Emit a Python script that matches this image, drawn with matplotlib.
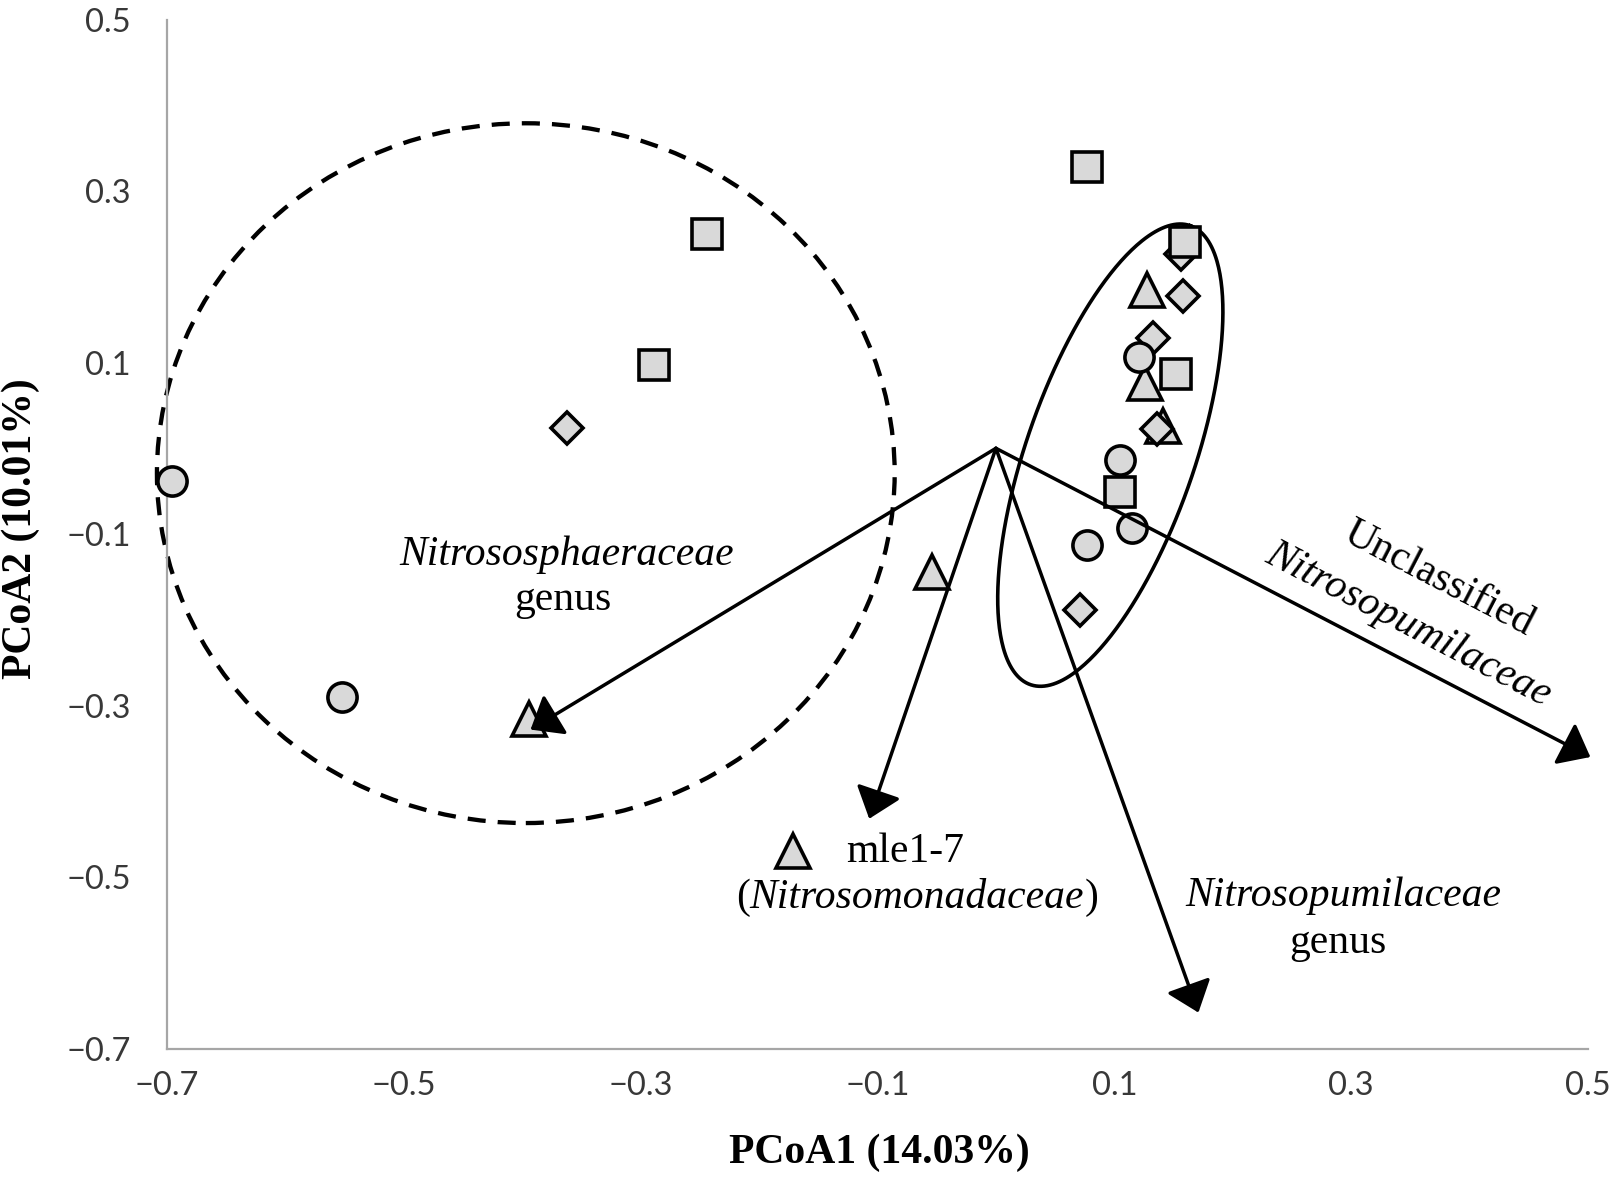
import numpy as np
import matplotlib
matplotlib.use("Agg")
import matplotlib.pyplot as plt
from matplotlib.patches import Ellipse, FancyArrowPatch

# ---------------- data ----------------
circle_x = [-0.696, -0.552, 0.121, 0.105, 0.115, 0.077]
circle_y = [-0.038, -0.290, 0.107, -0.014, -0.093, -0.113]

square_x = [-0.289, -0.244, 0.077, 0.160, 0.152, 0.105]
square_y = [0.097, 0.250, 0.328, 0.240, 0.087, -0.051]

diamond_x = [-0.362, 0.156, 0.158, 0.133, 0.136, 0.071]
diamond_y = [0.024, 0.226, 0.178, 0.129, 0.022, -0.188]

triangle_x = [-0.394, -0.054, -0.171, 0.128, 0.126, 0.141]
triangle_y = [-0.316, -0.144, -0.470, 0.184, 0.076, 0.026]

vector_names = ["Nitrososphaeraceae genus", "mle1-7", "Nitrosopumilaceae genus",
                "Unclassified Nitrosopumilaceae"]
vector_x = [-0.393, -0.107, 0.171, 0.502]
vector_y = [-0.328, -0.432, -0.658, -0.360]

xticks = [-0.7, -0.5, -0.3, -0.1, 0.1, 0.3, 0.5]
yticks = [-0.7, -0.5, -0.3, -0.1, 0.1, 0.3, 0.5]
xlabel = "PCoA1 (14.03%)"
ylabel = "PCoA2 (10.01%)"

# ---------------- figure ----------------
W, H = 1612, 1177
fig = plt.figure(figsize=(W / 100, H / 100), dpi=100)
ax = fig.add_axes([167 / W, 1 - 1048.6 / H, (1588 - 167) / W, (1048.6 - 19.5) / H])
ax.set_xlim(-0.7, 0.5)
ax.set_ylim(-0.7, 0.5)

for s in ["top", "right"]:
    ax.spines[s].set_visible(False)
for s in ["left", "bottom"]:
    ax.spines[s].set_color("#a6a6a6")
    ax.spines[s].set_linewidth(1.6)

tick_font = dict(family=["Lato", "DejaVu Sans"], size=23.5, color="#383838")
ax.set_xticks(xticks)
ax.set_yticks(yticks)
ax.set_xticklabels([f"{v:.1f}".replace("-", "\u2212") for v in xticks], **tick_font)
ax.set_yticklabels([f"{v:.1f}".replace("-", "\u2212") for v in yticks], **tick_font)
ax.tick_params(axis="both", length=0)
ax.tick_params(axis="y", pad=26)
ax.tick_params(axis="x", pad=16)

fill = "#d9d9d9"
ek = dict(linestyle="none", markerfacecolor=fill, markeredgecolor="black", markeredgewidth=2.6,
          clip_on=False)
ax.plot(triangle_x, triangle_y, marker="^", markersize=24, zorder=3, **ek)
ax.plot(diamond_x, diamond_y, marker="D", markersize=16.5, zorder=4, **ek)
ax.plot(circle_x, circle_y, marker="o", markersize=21, zorder=5, **ek)
ax.plot(square_x, square_y, marker="s", markersize=22, zorder=6, **ek)

# dashed ellipse (group outline)
ax.add_patch(Ellipse((-0.397, -0.029), 0.623, 0.816, fill=False, edgecolor="black",
                     linewidth=3.1, linestyle=(0, (4.2, 2.8)), zorder=2, clip_on=False))

# solid rotated ellipse, defined in screen units
fig.canvas.draw()
bb = ax.get_window_extent()
sx = bb.width / 1.2
sy = bb.height / 1.2
a_px, b_px, ang = 243, 84, np.deg2rad(70.8)
t = np.linspace(0, 2 * np.pi, 400)
ox = a_px * np.cos(t) * np.cos(ang) - b_px * np.sin(t) * np.sin(ang)
oy = a_px * np.cos(t) * np.sin(ang) + b_px * np.sin(t) * np.cos(ang)
ax.plot(0.0966 + ox / sx, -0.008 + oy / sy, color="black", linewidth=2.6, zorder=2)

# vectors
for vx, vy in zip(vector_x, vector_y):
    arr = FancyArrowPatch((0, 0), (vx, vy), arrowstyle="-|>,head_length=0.9,head_width=0.72",
                          mutation_scale=20, color="black", linewidth=2.5,
                          shrinkA=0, shrinkB=0, zorder=7, clip_on=False)
    ax.add_patch(arr)

serif = ["Liberation Serif", "DejaVu Serif"]
fs = 30
ax.text(-0.3625, -0.124, "Nitrososphaeraceae", family=serif, style="italic", size=fs,
        ha="center", va="center", zorder=8)
ax.text(-0.366, -0.177, "genus", family=serif, size=fs, ha="center", va="center", zorder=8)
ax.text(-0.077, -0.470, "mle1-7", family=serif, size=fs, ha="center", va="center", zorder=8)

# "(Nitrosomonadaceae)" with italic inner part
fig.canvas.draw()
r = fig.canvas.get_renderer()
parts = [("(", "normal"), ("Nitrosomonadaceae", "italic"), (")", "normal")]
objs = [ax.text(0, 0, p, family=serif, size=fs, style=st, ha="left", va="center", zorder=8)
        for p, st in parts]
widths = [o.get_window_extent(r).width for o in objs]
total = sum(widths)
cx, cy = ax.transData.transform((-0.0666, -0.524))
x0 = cx - total / 2
inv = ax.transData.inverted()
for o, w in zip(objs, widths):
    o.set_position(inv.transform((x0, cy)))
    x0 += w

ax.text(0.2935, -0.5216, "Nitrosopumilaceae", family=serif, style="italic", size=fs,
        ha="center", va="center", zorder=8)
ax.text(0.289, -0.576, "genus", family=serif, size=fs, ha="center", va="center", zorder=8)
ax.text(0.374, -0.152, "Unclassified", family=serif, size=fs, ha="center", va="center",
        rotation=-27.4, rotation_mode="anchor", zorder=8)
ax.text(0.348, -0.206, "Nitrosopumilaceae", family=serif, style="italic", size=fs,
        ha="center", va="center", rotation=-27.4, rotation_mode="anchor", zorder=8)

fig.text(879 / W, 1 - 1153 / H, xlabel, family=serif, weight="bold", size=fs,
         ha="center", va="center")
fig.text(21 / W, 1 - 529 / H, ylabel, family=serif, weight="bold", size=fs,
         ha="center", va="center", rotation=90)

fig.savefig("out.png", dpi=100)
